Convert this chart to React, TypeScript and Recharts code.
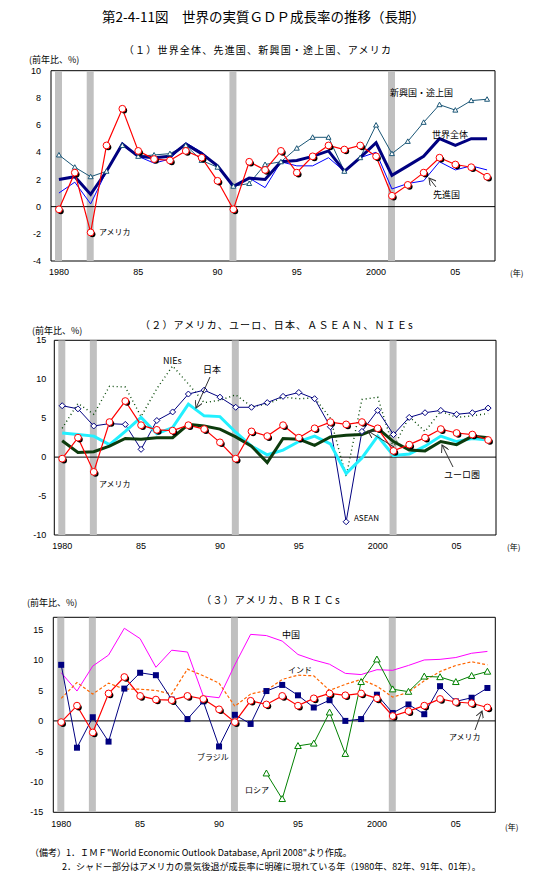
import React from 'react';
import { ComposedChart, Line, Bar, XAxis, YAxis, ReferenceLine, ReferenceArea } from 'recharts';

// categories
const years = [
  1980, 1981, 1982, 1983, 1984, 1985, 1986, 1987, 1988, 1989,
  1990, 1991, 1992, 1993, 1994, 1995, 1996, 1997, 1998, 1999,
  2000, 2001, 2002, 2003, 2004, 2005, 2006, 2007,
];
const shadeYears = [1980, 1982, 1991, 2001];
const xTickYears = [1980, 1985, 1990, 1995, 2000, 2005];
const xTickLabels = ['1980', '85', '90', '95', '2000', '05'];

// (1) world / advanced / emerging / USA
const usa = [-0.2, 2.5, -1.9, 4.5, 7.2, 4.1, 3.5, 3.4, 4.1, 3.6, 1.9, -0.2, 3.3, 2.7, 4.1, 2.5, 3.7, 4.5, 4.2, 4.5, 3.7, 0.8, 1.6, 2.5, 3.6, 3.1, 2.9, 2.2];
const world = [2.0, 2.2, 0.9, 2.6, 4.6, 3.7, 3.6, 3.7, 4.6, 3.9, 3.0, 1.5, 2.1, 2.0, 3.3, 3.4, 3.7, 4.1, 2.6, 3.6, 4.7, 2.3, 3.0, 3.7, 5.0, 4.5, 5.0, 5.0];
const advanced = [1.0, 1.8, 0.2, 2.6, 4.7, 3.7, 3.2, 3.5, 4.7, 4.0, 3.0, 1.4, 2.1, 1.4, 3.3, 3.0, 3.0, 3.6, 2.6, 3.6, 4.0, 1.3, 1.7, 1.9, 3.3, 2.7, 3.0, 2.7];
const emerging = [3.8, 2.9, 2.2, 2.6, 4.5, 3.7, 3.8, 3.9, 4.5, 3.4, 2.9, 1.5, 1.7, 3.1, 3.3, 4.3, 5.1, 5.1, 2.6, 3.6, 6.0, 3.9, 4.8, 6.2, 7.5, 7.1, 7.8, 7.9];

// (2) euro / Japan / ASEAN / NIEs
const euro = [2.1, 0.6, 0.7, 1.4, 2.4, 2.3, 2.5, 2.5, 4.2, 4.0, 3.6, 2.6, 1.4, -0.7, 2.4, 2.3, 1.5, 2.6, 2.8, 2.9, 3.7, 2.0, 0.9, 0.8, 2.0, 1.6, 2.7, 2.5];
const japan = [3.1, 2.9, 2.7, 1.6, 3.3, 5.1, 3.0, 3.8, 6.8, 5.3, 5.2, 3.2, 1.4, 0.3, 0.9, 2.0, 2.7, 1.7, -2.1, -0.1, 2.7, 0.2, 0.4, 1.4, 2.7, 2.0, 2.4, 2.2];
const asean = [6.6, 6.2, 4.0, 4.3, 4.2, 1.0, 4.7, 5.8, 8.1, 8.6, 7.7, 6.4, 6.4, 7.0, 7.8, 8.3, 7.5, 3.9, -8.3, 3.3, 6.0, 2.9, 5.1, 5.7, 6.0, 5.5, 5.7, 6.3];
const nies = [3.7, 6.9, 5.5, 9.1, 9.0, 5.2, 8.8, 11.7, 9.4, 7.0, 7.3, 8.0, 6.5, 6.8, 7.7, 7.5, 7.6, 5.0, -2.5, 7.4, 7.7, 1.2, 5.2, 3.3, 5.9, 5.1, 5.3, 5.6];

// (3) BRICs
const china = [7.9, 4.9, 9.0, 10.8, 15.2, 13.5, 8.8, 11.6, 11.3, 4.1, 3.8, 9.2, 14.2, 14.0, 13.1, 10.9, 10.0, 9.3, 7.8, 7.6, 8.4, 8.3, 9.1, 10.0, 10.1, 10.4, 11.1, 11.4];
const india = [3.7, 6.3, 4.4, 6.2, 5.2, 5.2, 5.0, 4.4, 8.5, 7.4, 6.2, 2.4, 4.4, 5.0, 6.8, 7.5, 7.4, 5.0, 6.0, 6.8, 5.7, 3.9, 4.7, 6.6, 8.1, 9.1, 9.7, 9.2];
const brazil = [9.2, -4.4, 0.6, -3.4, 5.3, 7.9, 7.5, 3.5, 0.3, 3.2, -4.2, 1.0, -0.5, 4.9, 5.9, 4.2, 2.2, 3.4, 0.0, 0.3, 4.3, 1.3, 2.7, 1.1, 5.7, 3.2, 3.8, 5.4];
const russia = [null, null, null, null, null, null, null, null, null, null, null, null, null, -8.6, -12.8, -4.1, -3.7, 1.4, -5.4, 6.4, 10.1, 5.2, 4.8, 7.3, 7.2, 6.4, 7.4, 8.1];

const JP = "'Noto Sans CJK JP', sans-serif";
const NUM = "'Liberation Sans', Arial, sans-serif";
const Y_W = 30;

const shade = (year: number, lo: number, hi: number) => (shadeYears.includes(year) ? [lo, hi] : null);

const rows1 = years.map((year, i) => ({
  year, band: shade(year, -4, 10), usa: usa[i], world: world[i], advanced: advanced[i], emerging: emerging[i],
}));
const rows2 = years.map((year, i) => ({
  year, band: shade(year, -10, 15), usa: usa[i], euro: euro[i], japan: japan[i], asean: asean[i], nies: nies[i],
}));
const rows3 = years.map((year, i) => ({
  year, band: shade(year, -15, 17), usa: usa[i], china: china[i], india: india[i], brazil: brazil[i], russia: russia[i],
}));

// markers
const usaDot = (p: any) => {
  const { cx, cy, index, value } = p;
  if (cx == null || cy == null || value == null) return <g key={index} />;
  return (
    <g key={index}>
      <circle cx={cx + 1.8} cy={cy + 1.8} r={3} fill="#000" />
      <circle cx={cx} cy={cy} r={3.4} fill="#fff" stroke="#ff0000" strokeWidth={1} />
    </g>
  );
};

const triangleDot = (color: string, s: number) => (p: any) => {
  const { cx, cy, index, value } = p;
  if (cx == null || cy == null || value == null) return <g key={index} />;
  return (
    <path key={index} d={`M${cx},${cy - s} L${cx + s},${cy + s * 0.8} L${cx - s},${cy + s * 0.8} Z`}
      fill="#fff" stroke={color} strokeWidth={1} />
  );
};

const diamondDot = (p: any) => {
  const { cx, cy, index, value } = p;
  if (cx == null || cy == null || value == null) return <g key={index} />;
  return (
    <path key={index} d={`M${cx},${cy - 3} L${cx + 3},${cy} L${cx},${cy + 3} L${cx - 3},${cy} Z`}
      fill="#fff" stroke="#000080" strokeWidth={1} />
  );
};

const squareDot = (p: any) => {
  const { cx, cy, index, value } = p;
  if (cx == null || cy == null || value == null) return <g key={index} />;
  return <rect key={index} x={cx - 3} y={cy - 3} width={6} height={6} fill="#000080" />;
};

const xTick = (v: any) => {
  const i = xTickYears.indexOf(Number(v));
  return i >= 0 ? xTickLabels[i] : '';
};

const tickStyle = { fontSize: 9, fill: '#000', fontFamily: NUM };

const Label = ({ x, y, text, size = 9 }: { x: number; y: number; text: string; size?: number }) => (
  <div style={{ position: 'absolute', left: x, top: y, transform: 'translateY(-50%)', fontSize: size, fontFamily: JP, whiteSpace: 'nowrap', lineHeight: 1, color: '#000' }}>
    {text}
  </div>
);

const Sub = ({ cx, y, text }: { cx: number; y: number; text: string }) => (
  <div style={{ position: 'absolute', left: cx - 200, width: 400, top: y, transform: 'translateY(-50%)', textAlign: 'center', fontSize: 10, letterSpacing: 1.2, fontFamily: JP, lineHeight: 1, color: '#000' }}>
    {text}
  </div>
);

export default function App() {
  return (
    <div style={{ position: 'absolute', left: 0, top: 0, width: 547, height: 896, background: '#fff', fontFamily: JP }}>
      <div style={{ position: 'absolute', left: 0, width: 547, top: 17, transform: 'translateY(-50%)', textAlign: 'center', fontSize: 13.5, lineHeight: 1, paddingRight: 20, boxSizing: 'border-box' }}>
        第2-4-11図　世界の実質ＧＤＰ成長率の推移（長期）
      </div>

      {/* (1) */}
      <Sub cx={258} y={50} text="（１）世界全体、先進国、新興国・途上国、アメリカ" />
      <Label x={29} y={59} text="(前年比、%)" />
      <div style={{ position: 'absolute', left: 0, top: 60 }}>
        <ComposedChart width={547} height={230} data={rows1} margin={{ top: 10.7, right: 52, bottom: 9, left: 51 - Y_W }}>
          <XAxis dataKey="year" type="category" ticks={xTickYears} tickFormatter={xTick} interval={0}
            axisLine={false} tickLine={false} height={20} tick={tickStyle} tickSize={6} />
          <YAxis domain={[-4, 10]} ticks={[-4, -2, 0, 2, 4, 6, 8, 10]} width={Y_W} axisLine={false} tickLine={false}
            tick={tickStyle} tickSize={8} interval={0} allowDataOverflow />
          <Bar dataKey="band" fill="#C0C0C0" barSize={7} isAnimationActive={false} />
          <ReferenceLine y={0} stroke="#000" strokeWidth={1} />
          <Line dataKey="advanced" stroke="#0000FF" strokeWidth={1} dot={false} isAnimationActive={false} />
          <Line dataKey="emerging" stroke="#1A5676" strokeWidth={1} dot={triangleDot('#1A5676', 2.5)} isAnimationActive={false} />
          <Line dataKey="world" stroke="#000080" strokeWidth={3} dot={false} isAnimationActive={false} />
          <Line dataKey="usa" stroke="#FF0000" strokeWidth={1.2} dot={usaDot} isAnimationActive={false} />
          <ReferenceArea y1={-4} y2={10} fill="none" stroke="#000" strokeWidth={1} ifOverflow="visible" />
        </ComposedChart>
      </div>
      <Label x={390} y={92} text="新興国・途上国" />
      <Label x={432} y={134} text="世界全体" />
      <Label x={433} y={194} text="先進国" />
      <Label x={99} y={232} text="アメリカ" size={8} />
      <Label x={510} y={273} text="(年)" size={8} />

      {/* (2) */}
      <Sub cx={277} y={325} text="（２）アメリカ、ユーロ、日本、ＡＳＥＡＮ、ＮＩＥs" />
      <Label x={32} y={330} text="(前年比、%)" />
      <div style={{ position: 'absolute', left: 0, top: 333 }}>
        <ComposedChart width={547} height={230} data={rows2} margin={{ top: 7.3, right: 51, bottom: 8, left: 54.3 - Y_W }}>
          <XAxis dataKey="year" type="category" ticks={xTickYears} tickFormatter={xTick} interval={0}
            axisLine={false} tickLine={false} height={20} tick={tickStyle} tickSize={6} />
          <YAxis domain={[-10, 15]} ticks={[-10, -5, 0, 5, 10, 15]} width={Y_W} axisLine={false} tickLine={false}
            tick={tickStyle} tickSize={6} interval={0} allowDataOverflow />
          <Bar dataKey="band" fill="#C0C0C0" barSize={7} isAnimationActive={false} />
          <ReferenceLine y={0} stroke="#000" strokeWidth={1} />
          <Line dataKey="nies" stroke="#004400" strokeWidth={1.4} strokeDasharray="1 3" dot={false} isAnimationActive={false} />
          <Line dataKey="asean" stroke="#000080" strokeWidth={1} dot={diamondDot} isAnimationActive={false} />
          <Line dataKey="japan" stroke="#22F0FF" strokeWidth={3} dot={false} isAnimationActive={false} />
          <Line dataKey="euro" stroke="#0D3B0D" strokeWidth={3} dot={false} isAnimationActive={false} />
          <Line dataKey="usa" stroke="#FF0000" strokeWidth={1.2} dot={usaDot} isAnimationActive={false} />
          <ReferenceArea y1={-10} y2={15} fill="none" stroke="#000" strokeWidth={1} ifOverflow="visible" />
        </ComposedChart>
      </div>
      <Label x={163} y={360} text="NIEs" />
      <Label x={203} y={369} text="日本" />
      <Label x={99} y={484} text="アメリカ" size={8} />
      <Label x={354} y={518} text="ASEAN" size={8} />
      <Label x={444} y={474} text="ユーロ圏" />
      <Label x={507} y={547} text="(年)" size={8} />

      {/* (3) */}
      <Sub cx={271} y={600} text="（３）アメリカ、ＢＲＩＣs" />
      <Label x={27} y={602} text="(前年比、%)" />
      <div style={{ position: 'absolute', left: 0, top: 605 }}>
        <ComposedChart width={547} height={235} data={rows3} margin={{ top: 12.3, right: 51.7, bottom: 7.7, left: 53.3 - Y_W }}>
          <XAxis dataKey="year" type="category" ticks={xTickYears} tickFormatter={xTick} interval={0}
            axisLine={false} tickLine={false} height={20} tick={tickStyle} tickSize={6} />
          <YAxis domain={[-15, 17]} ticks={[-15, -10, -5, 0, 5, 10, 15]} width={Y_W} axisLine={false} tickLine={false}
            tick={tickStyle} tickSize={8} interval={0} allowDataOverflow />
          <Bar dataKey="band" fill="#C0C0C0" barSize={7} isAnimationActive={false} />
          <ReferenceLine y={0} stroke="#000" strokeWidth={1} />
          <Line dataKey="china" stroke="#FF00FF" strokeWidth={1} dot={false} isAnimationActive={false} />
          <Line dataKey="india" stroke="#FF6600" strokeWidth={1.2} strokeDasharray="3 2" dot={false} isAnimationActive={false} />
          <Line dataKey="russia" stroke="#008000" strokeWidth={1} dot={triangleDot('#008000', 3.3)} connectNulls={false} isAnimationActive={false} />
          <Line dataKey="brazil" stroke="#000080" strokeWidth={1} dot={squareDot} isAnimationActive={false} />
          <Line dataKey="usa" stroke="#FF0000" strokeWidth={1.2} dot={usaDot} isAnimationActive={false} />
          <ReferenceArea y1={-15} y2={17} fill="none" stroke="#000" strokeWidth={1} ifOverflow="visible" />
        </ComposedChart>
      </div>
      <Label x={282} y={634} text="中国" />
      <Label x={288} y={670} text="インド" size={8} />
      <Label x={197} y={757} text="ブラジル" size={8} />
      <Label x={245} y={790} text="ロシア" size={8} />
      <Label x={449} y={737} text="アメリカ" size={8} />
      <Label x={505} y={827} text="(年)" size={8} />

      {/* arrows */}
      <svg width={547} height={896} style={{ position: 'absolute', left: 0, top: 0, pointerEvents: 'none' }}>
        <defs>
          <marker id="ah" markerWidth="8" markerHeight="8" refX="7" refY="4" orient="auto" markerUnits="userSpaceOnUse">
            <path d="M0,0 L7,4 L0,8" fill="none" stroke="#333" strokeWidth={1} />
          </marker>
        </defs>
        <line x1={436} y1={187} x2={429} y2={178} stroke="#333" strokeWidth={1} markerEnd="url(#ah)" />
        <line x1={210} y1={377} x2={196} y2={408} stroke="#333" strokeWidth={1} markerEnd="url(#ah)" />
        <line x1={453} y1={467} x2={442} y2={445} stroke="#333" strokeWidth={1} markerEnd="url(#ah)" />
        <line x1={394} y1={447} x2={368} y2={431} stroke="#333" strokeWidth={1} markerEnd="url(#ah)" />
        <line x1={475} y1={730} x2={482} y2={711} stroke="#333" strokeWidth={1} markerEnd="url(#ah)" />
      </svg>

      <div style={{ position: 'absolute', left: 30, top: 846, fontSize: 9, lineHeight: '14px', whiteSpace: 'nowrap' }}>
        <div>（備考）1．ＩＭＦ"World Economic Outlook Database, April 2008"より作成。</div>
        <div style={{ paddingLeft: 32 }}>2．シャドー部分はアメリカの景気後退が成長率に明確に現れている年（1980年、82年、91年、01年）。</div>
      </div>
    </div>
  );
}
